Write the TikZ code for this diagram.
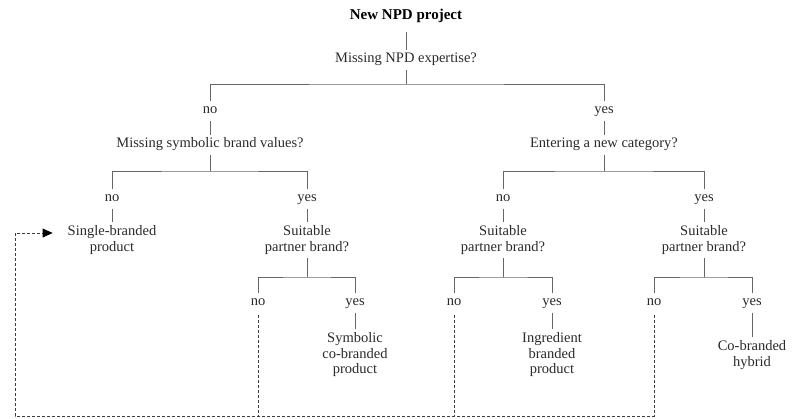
\documentclass[tikz,border=0pt]{standalone}
\usepackage{fontspec}
\setmainfont{Liberation Serif}
\usetikzlibrary{arrows.meta}
\definecolor{txtc}{HTML}{2A2A2A}
\definecolor{linec}{HTML}{666666}
\definecolor{dashc}{HTML}{3C3C3C}
\tikzset{
  x=1pt, y=-1pt,
  txtm/.style={font=\fontsize{14.5}{15.5}\selectfont, text=txtc, align=center,
    inner xsep=0pt, inner ysep=4pt, outer sep=0pt},
  txt/.style={txtm, text height=9pt, text depth=3pt},
  ln/.style={draw=linec, line width=0.8pt},
  dsh/.style={draw=dashc, line width=0.7pt, dash pattern=on 3pt off 2pt},
  headfill/.style={fill=black}
}
\begin{document}
\begin{tikzpicture}
\useasboundingbox (0,0) rectangle (792,419);
% nodes
\node[txt, font=\fontsize{15}{16}\bfseries, text=black] (root) at (406,17) {New NPD project};
\node[txt] (q1) at (406,60) {Missing NPD expertise?};
\node[txt] (no1) at (210,111) {no};
\node[txt] (yes1) at (604,111) {yes};
\node[txt] (q2) at (210,145) {Missing symbolic brand values?};
\node[txt] (q3) at (604,145) {Entering a new category?};
\node[txt] (no2a) at (112,199) {no};
\node[txt] (yes2a) at (307,199) {yes};
\node[txt] (no2b) at (503,199) {no};
\node[txt] (yes2b) at (704,199) {yes};
\node[txtm] (single) at (112,240) {Single-branded\\product};
\node[txtm] (sa) at (307,240) {Suitable\\partner brand?};
\node[txtm] (sb) at (503,240) {Suitable\\partner brand?};
\node[txtm] (sc) at (704,240) {Suitable\\partner brand?};
\node[txt] (no3a) at (258,303) {no};
\node[txt] (yes3a) at (355,303) {yes};
\node[txt] (no3b) at (454,303) {no};
\node[txt] (yes3b) at (552,303) {yes};
\node[txt] (no3c) at (654,303) {no};
\node[txt] (yes3c) at (752,303) {yes};
\node[txtm] (lfa) at (355,355) {Symbolic\\co-branded\\product};
\node[txtm] (lfb) at (552,355) {Ingredient\\branded\\product};
\node[txtm] (lfc) at (752,355) {Co-branded\\hybrid};
% bar coordinates
\coordinate (b1) at (406,84);
\coordinate (b2a) at (210,171);
\coordinate (b2b) at (604,171);
\coordinate (b3a) at (307,277);
\coordinate (b3b) at (503,277);
\coordinate (b3c) at (704,277);
\coordinate (bl) at (15,416);
\coordinate (tl) at (15,233);
\path (single.west |- tl) ++(-15,0) coordinate (ah);
% solid connectors
\draw[ln, shorten <=5pt] (root.south) -- (q1.north);
\draw[ln] (q1.south) -- (b1);
\draw[ln] (no1.north) |- (b1) -| (yes1.north);
\draw[ln] (no1.south) -- (q2.north);
\draw[ln] (yes1.south) -- (q3.north);
\draw[ln] (q2.south) -- (b2a);
\draw[ln] (q3.south) -- (b2b);
\draw[ln] (no2a.north) |- (b2a) -| (yes2a.north);
\draw[ln] (no2b.north) |- (b2b) -| (yes2b.north);
\draw[ln] (no2a.south) -- (single.north);
\draw[ln] (yes2a.south) -- (sa.north);
\draw[ln] (no2b.south) -- (sb.north);
\draw[ln] (yes2b.south) -- (sc.north);
\draw[ln] (sa.south) -- (b3a);
\draw[ln] (sb.south) -- (b3b);
\draw[ln] (sc.south) -- (b3c);
\draw[ln] (no3a.north) |- (b3a) -| (yes3a.north);
\draw[ln] (no3b.north) |- (b3b) -| (yes3b.north);
\draw[ln] (no3c.north) |- (b3c) -| (yes3c.north);
\draw[ln] (yes3a.south) -- (lfa.north);
\draw[ln] (yes3b.south) -- (lfb.north);
\draw[ln] (yes3c.south) -- (lfc.north);
% dashed feedback
\draw[dsh, shorten <=2pt] (no3a.south) -- (no3a.south |- bl);
\draw[dsh, shorten <=2pt] (no3b.south) -- (no3b.south |- bl);
\draw[dsh, shorten <=2pt, shorten >=9pt]
  (no3c.south) -- (no3c.south |- bl) -- (bl) -- (tl) -- (ah);
\fill[headfill] (ah) -- ++(-10,-4.5) -- ++(0,9) -- cycle;
\end{tikzpicture}
\end{document}
